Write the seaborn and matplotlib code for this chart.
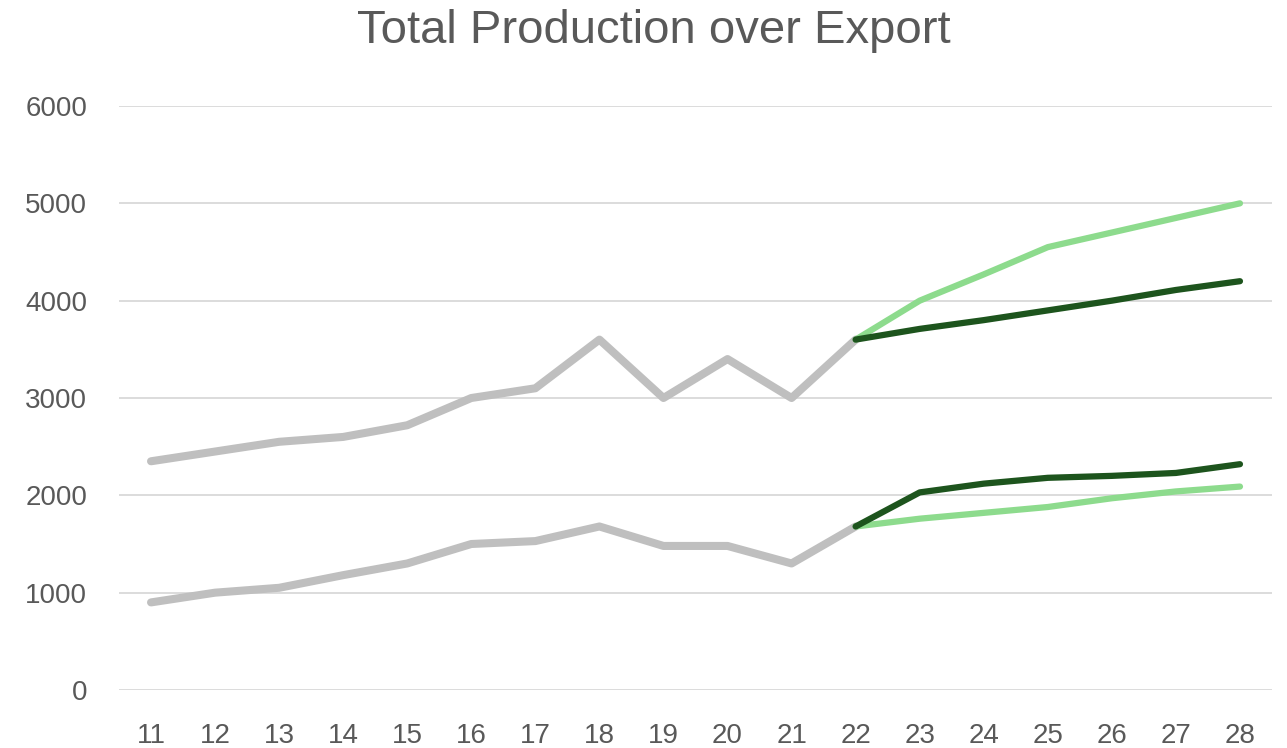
import pandas as pd
import matplotlib.pyplot as plt
import seaborn as sns

# years (x axis)
hist_years = [11, 12, 13, 14, 15, 16, 17, 18, 19, 20, 21, 22]
fc_years = [22, 23, 24, 25, 26, 27, 28]

# historical values
production = [2350, 2450, 2550, 2600, 2720, 3000, 3100, 3600, 3000, 3400, 3000, 3600]
export = [900, 1000, 1050, 1180, 1300, 1500, 1530, 1680, 1480, 1480, 1300, 1680]

# forecast values
prod_high = [3600, 4000, 4270, 4550, 4700, 4850, 5000]
prod_low = [3600, 3710, 3800, 3900, 4000, 4110, 4200]
exp_high = [1680, 2030, 2120, 2180, 2200, 2230, 2320]
exp_low = [1680, 1760, 1820, 1880, 1970, 2040, 2090]

sns.set_style("white")
plt.rcParams['font.family'] = ['Liberation Sans', 'DejaVu Sans']

fig = plt.figure(figsize=(12.87, 7.48), dpi=100)
ax = fig.add_axes([119 / 1287, 1 - 690 / 748, 1153 / 1287, 584 / 748])

grey = '#BFBFBF'
light = '#8DDB8D'
dark = '#1D541D'

sns.lineplot(x=hist_years, y=production, color=grey, linewidth=5.8, ax=ax)
sns.lineplot(x=hist_years, y=export, color=grey, linewidth=5.8, ax=ax)
sns.lineplot(x=fc_years, y=prod_high, color=light, linewidth=4.5, ax=ax)
sns.lineplot(x=fc_years, y=prod_low, color=dark, linewidth=4.5, ax=ax)
sns.lineplot(x=fc_years, y=exp_low, color=light, linewidth=4.5, ax=ax)
sns.lineplot(x=fc_years, y=exp_high, color=dark, linewidth=4.5, ax=ax)
for ln in ax.lines:
    ln.set_solid_capstyle('round')

ax.set_xlim(10.5, 28.5)
ax.set_ylim(0, 6000)
ax.set_xticks(range(11, 29))
ax.set_yticks(range(0, 6001, 1000))
ax.yaxis.grid(True, color='#D9D9D9', linewidth=1.3)
ax.set_axisbelow(True)
for s in ax.spines.values():
    s.set_visible(False)
ax.tick_params(axis='both', length=0, labelsize=20, labelcolor='#595959')
ax.tick_params(axis='y', pad=23)
ax.tick_params(axis='x', pad=24)

fig.text(0.508, 0.958, 'Total Production over Export', ha='center', va='center',
         fontsize=34, color='#595959')

fig.savefig('out.png', dpi=100)
